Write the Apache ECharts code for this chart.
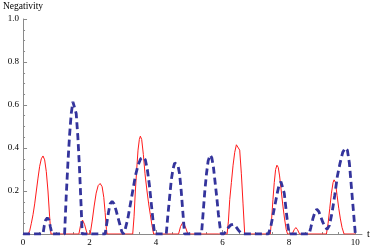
<!DOCTYPE html>
<html><head><meta charset="utf-8">
<script src="https://cdn.jsdelivr.net/npm/echarts@6/dist/echarts.min.js"></script>
<style>html,body{margin:0;padding:0;background:#fff}#c{width:375px;height:249px}</style>
</head><body><div id="c"></div>
<script>
var xTicks = [0, 2, 4, 6, 8, 10];
var yTicks = [0.2, 0.4, 0.6, 0.8, 1.0];
var xName = 't';
var yName = 'Negativity';
var redPoints = [
[0,0],[0.15,0],[0.2,0.015],[0.25,0.05],[0.3,0.09],[0.35,0.14],[0.4,0.2],[0.45,0.26],[0.5,0.315],[0.55,0.35],[0.6,0.363],[0.65,0.345],[0.7,0.29],[0.75,0.2],[0.8,0.08],[0.84,0],
[1.68,0],[1.73,0.04],[1.79,0.065],[1.85,0.045],[1.93,0],
[2.02,0],[2.08,0.06],[2.14,0.13],[2.2,0.19],[2.26,0.225],[2.32,0.235],[2.38,0.22],[2.43,0.17],[2.47,0.1],[2.51,0.02],[2.53,0],
[3.3,0],[3.34,0.08],[3.38,0.2],[3.42,0.3],[3.46,0.39],[3.5,0.44],[3.53,0.455],[3.57,0.44],[3.62,0.37],[3.67,0.28],[3.73,0.2],[3.78,0.14],[3.83,0.09],[3.88,0.04],[3.93,0],
[4.68,0],[4.74,0.035],[4.81,0.054],[4.88,0.035],[4.96,0],
[5.88,0],[5.92,0.005],[5.96,0],
[6.14,0],[6.18,0.06],[6.22,0.16],[6.27,0.24],[6.32,0.32],[6.37,0.38],[6.42,0.415],[6.47,0.42],[6.52,0.39],[6.57,0.28],[6.62,0.14],[6.67,0],
[7.44,0],[7.48,0.07],[7.52,0.16],[7.56,0.24],[7.6,0.3],[7.64,0.32],[7.68,0.31],[7.72,0.27],[7.77,0.2],[7.82,0.13],[7.87,0.07],[7.92,0.02],[7.96,0],
[8.1,0],[8.16,0.02],[8.21,0.03],[8.26,0.02],[8.32,0],
[9.13,0],[9.18,0.05],[9.23,0.12],[9.28,0.19],[9.33,0.24],[9.36,0.252],[9.4,0.24],[9.45,0.18],[9.5,0.12],[9.55,0.07],[9.6,0.03],[9.66,0],
[10,0]
];
var bluePoints = [
[0,0],[0.6,0],[0.64,0.04],[0.68,0.065],[0.73,0.075],[0.78,0.065],[0.82,0.035],[0.87,0],
[1.25,0],[1.3,0.18],[1.35,0.33],[1.4,0.46],[1.45,0.56],[1.5,0.615],[1.53,0.622],[1.56,0.61],[1.6,0.56],[1.65,0.45],[1.7,0.3],[1.75,0.12],[1.78,0],
[2.47,0],[2.52,0.05],[2.57,0.1],[2.62,0.14],[2.68,0.152],[2.74,0.14],[2.8,0.11],[2.86,0.074],[2.92,0.04],[2.97,0.012],[3.02,0],
[3.07,0.02],[3.15,0.07],[3.22,0.13],[3.3,0.2],[3.38,0.27],[3.46,0.32],[3.54,0.35],[3.62,0.357],[3.68,0.345],[3.74,0.3],[3.8,0.23],[3.86,0.14],[3.92,0.05],[3.96,0],
[4.31,0],[4.36,0.09],[4.41,0.17],[4.46,0.25],[4.51,0.3],[4.56,0.33],[4.61,0.336],[4.66,0.32],[4.71,0.28],[4.76,0.2],[4.81,0.1],[4.86,0],
[5.37,0],[5.42,0.1],[5.47,0.2],[5.52,0.28],[5.57,0.34],[5.63,0.367],[5.68,0.355],[5.73,0.31],[5.78,0.24],[5.83,0.17],[5.88,0.09],[5.93,0.03],[5.97,0],
[6.04,0],[6.1,0.012],[6.18,0.03],[6.25,0.042],[6.32,0.045],[6.4,0.035],[6.48,0.018],[6.55,0.005],[6.62,0],
[7.38,0],[7.45,0.03],[7.5,0.07],[7.55,0.11],[7.6,0.15],[7.65,0.19],[7.7,0.225],[7.76,0.243],[7.81,0.235],[7.86,0.19],[7.91,0.12],[7.96,0.05],[8.01,0],
[8.61,0],[8.66,0.03],[8.72,0.07],[8.78,0.1],[8.84,0.115],[8.9,0.105],[8.96,0.08],[9.02,0.055],[9.08,0.035],[9.15,0.022],[9.22,0.04],[9.3,0.1],[9.38,0.18],[9.46,0.27],[9.54,0.33],[9.62,0.38],[9.7,0.4],[9.76,0.39],[9.82,0.33],[9.88,0.22],[9.94,0.11],[10,0]
];

var font = "'Liberation Serif', 'DejaVu Serif', serif";
var axisGray = '#8a8a8a';
var chart = echarts.init(document.getElementById('c'), null, {renderer: 'canvas'});
chart.setOption({
  animation: false,
  backgroundColor: '#fff',
  textStyle: {fontFamily: font},
  grid: {left: 20, right: 13, top: 19, bottom: 15},
  xAxis: {
    type: 'value', min: 0, max: 10.2,
    name: xName, nameLocation: 'end', nameGap: 5,
    nameTextStyle: {fontFamily: font, fontSize: 10, color: '#000', verticalAlign: 'middle'},
    axisLine: {show: true, onZero: false, lineStyle: {color: axisGray, width: 1}},
    axisTick: {show: true, inside: true, length: 4, lineStyle: {color: axisGray}, customValues: xTicks},
    minorTick: {show: true, splitNumber: 4, length: 2, lineStyle: {color: axisGray}},
    axisLabel: {show: true, margin: 4, fontFamily: font, fontSize: 9, color: '#000', customValues: xTicks,
      formatter: function(v){ return String(v); }},
    splitLine: {show: false}
  },
  yAxis: {
    type: 'value', min: 0, max: 1, interval: 0.2,
    name: yName, nameLocation: 'end', nameGap: 8,
    nameTextStyle: {fontFamily: font, fontSize: 9.5, color: '#000', align: 'center'},
    axisLine: {show: true, onZero: false, lineStyle: {color: axisGray, width: 1}},
    axisTick: {show: true, inside: true, length: 4, lineStyle: {color: axisGray}},
    minorTick: {show: true, splitNumber: 4, length: 2, lineStyle: {color: axisGray}},
    axisLabel: {show: true, margin: 4, fontFamily: font, fontSize: 9, color: '#000', customValues: yTicks,
      formatter: function(v){ return v.toFixed(1); }},
    splitLine: {show: false}
  },
  series: [
    {type: 'line', data: redPoints, showSymbol: false, symbol: 'none', smooth: false,
      lineStyle: {color: '#ff1a1a', width: 1}, z: 3},
    {type: 'line', data: bluePoints, showSymbol: false, symbol: 'none', smooth: false,
      lineStyle: {color: '#34349c', width: 2.8, type: [7, 4]}, z: 4}
  ]
});
</script>
</body></html>
